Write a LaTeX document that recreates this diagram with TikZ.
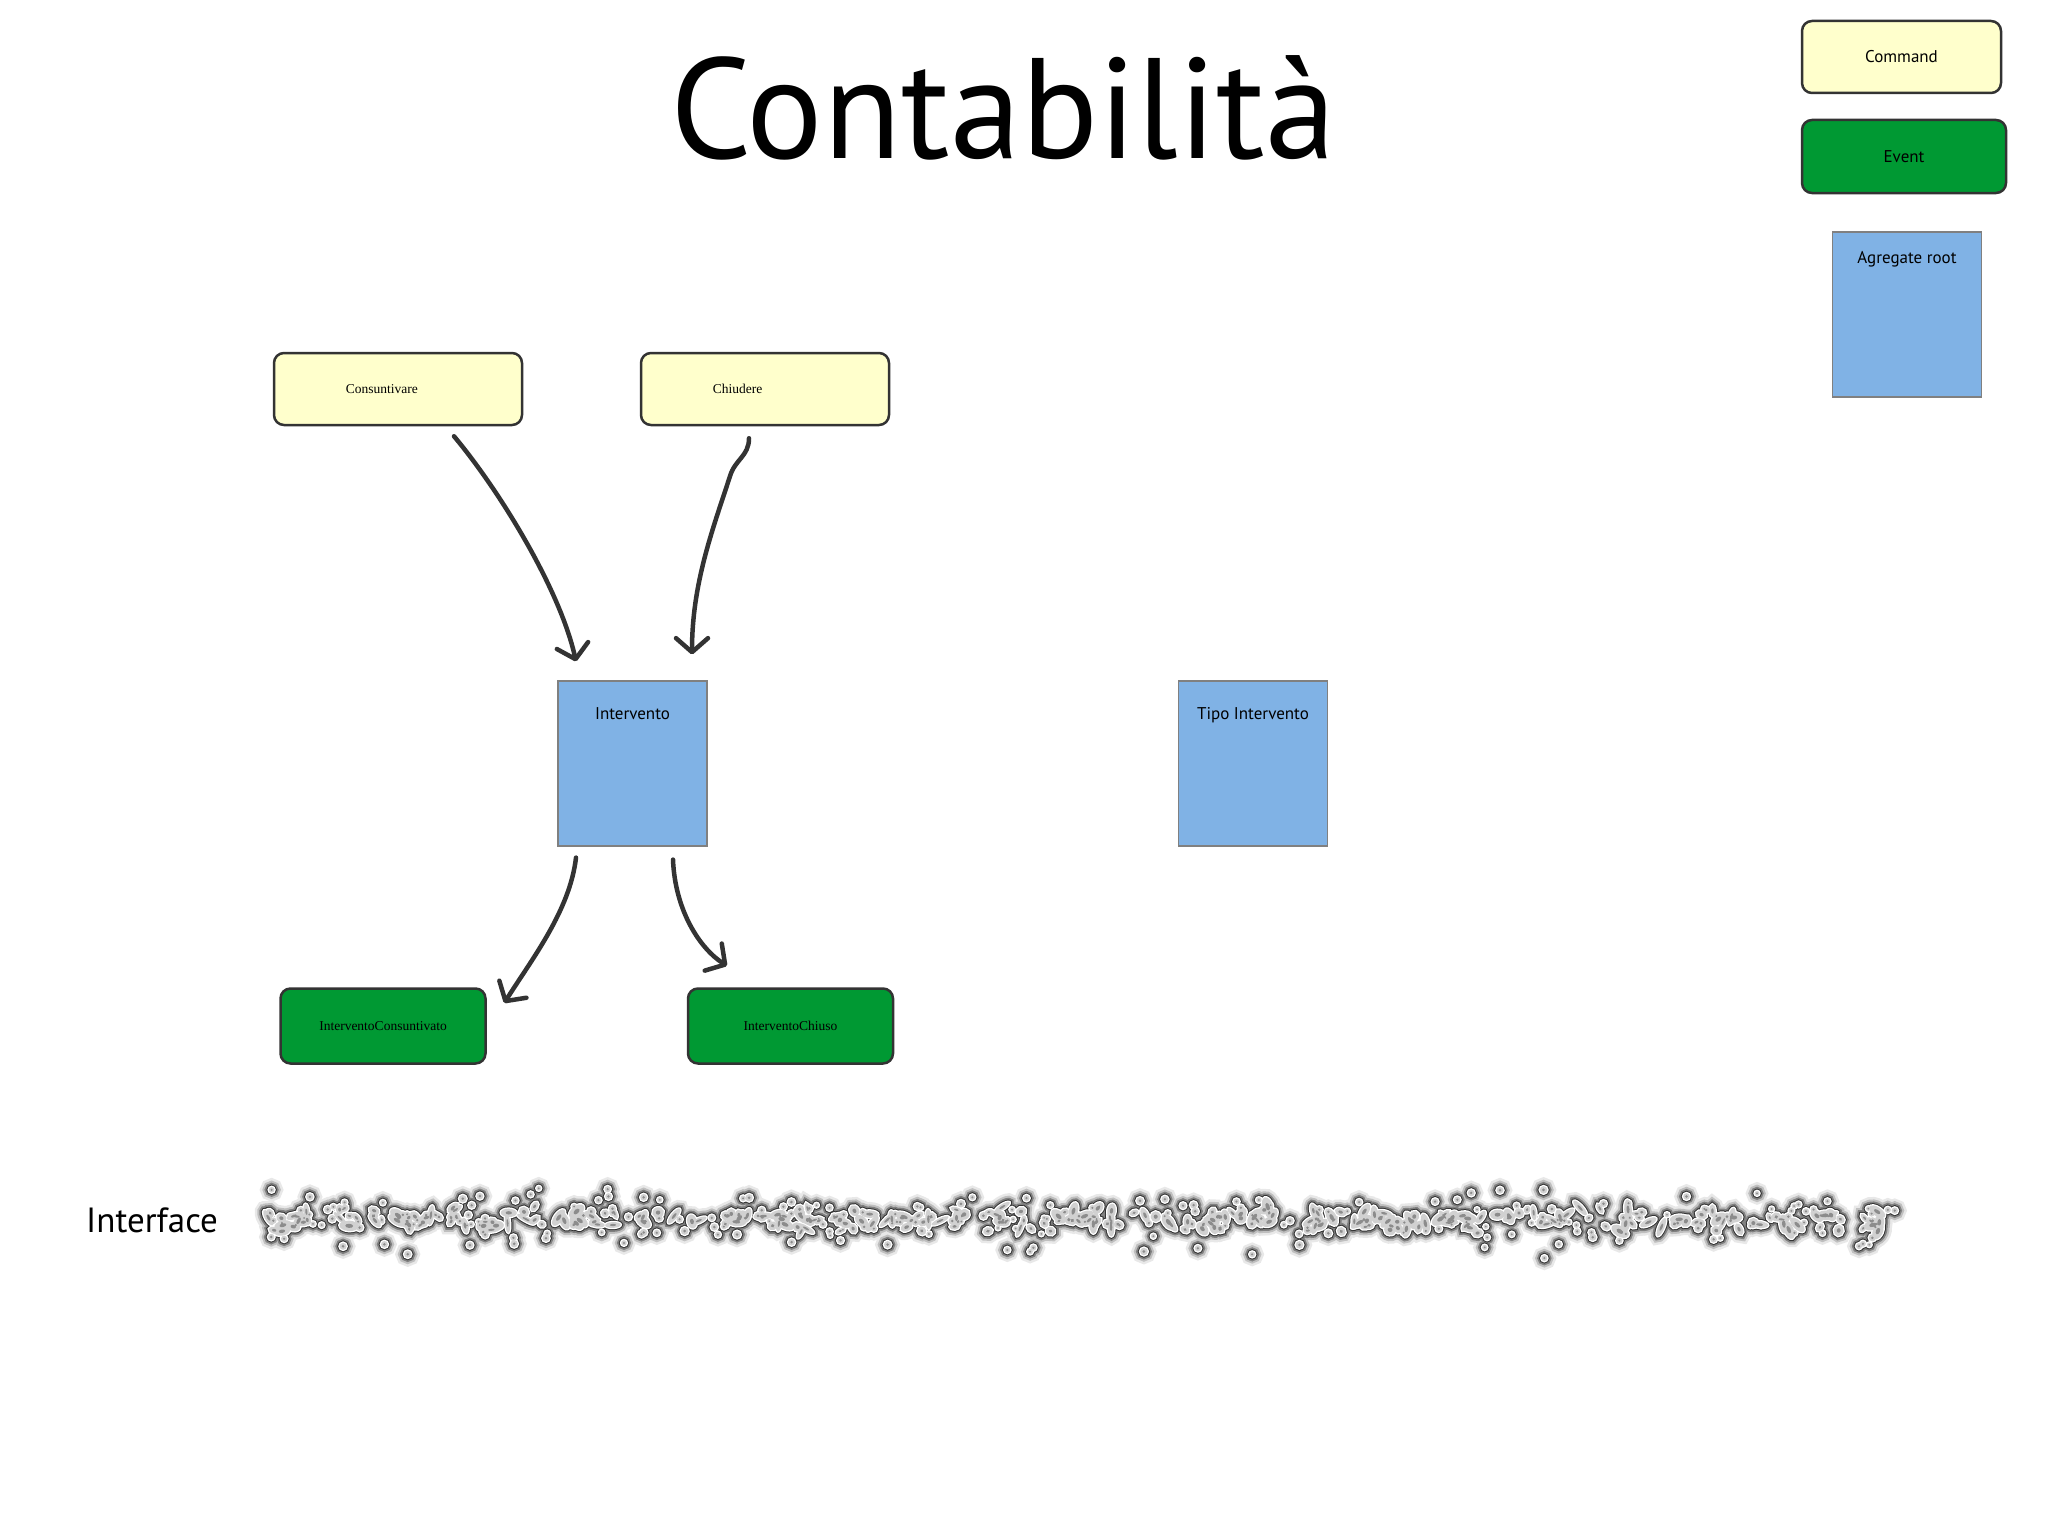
\documentclass[tikz,border=0pt]{standalone}
\usepackage{fontspec}
\setmainfont{PT Sans}
\newfontfamily\cmdfont{Liberation Serif}
\usetikzlibrary{arrows.meta,calc}
\definecolor{cmdyellow}{HTML}{FFFFCC}
\definecolor{evgreen}{HTML}{009933}
\definecolor{aggblue}{HTML}{80B2E5}
\definecolor{edgegray}{HTML}{333333}
\definecolor{agedge}{HTML}{808080}
% #1 = path options, #2 = radius factor
\newcommand\drawblobs[2]{%
  \pgfmathsetseed{4321}%
  \foreach \i in {1,...,320}{%
    \pgfmathsetmacro\bx{268+rnd*1634}%
    \pgfmathsetmacro\by{1220+(rnd+rnd-1)*14}%
    \pgfmathsetmacro\bxr{(3+rnd*7)*#2}%
    \pgfmathsetmacro\byr{(2.4+rnd*3)*#2}%
    \pgfmathsetmacro\ba{rnd*180}%
    \path[#1] (\bx,\by) ellipse[x radius=\bxr, y radius=\byr, rotate=\ba];
  }%
  \foreach \i in {1,...,240}{%
    \pgfmathsetmacro\bx{268+rnd*1634}%
    \pgfmathsetmacro\by{1220+(rnd+rnd+rnd-1.5)*28}%
    \pgfmathsetmacro\br{(2.2+rnd*1.6)*#2}%
    \path[#1] (\bx,\by) circle[radius=\br];
  }}
\begin{document}
\begin{tikzpicture}[x=1pt,y=-1pt,
  cmdbox/.style={draw=edgegray, line width=2.5pt, fill=cmdyellow, rounded corners=10pt, minimum width=248pt, minimum height=72pt, inner sep=0pt},
  evbox/.style={draw=edgegray, line width=2.5pt, fill=evgreen, rounded corners=10pt, minimum width=205pt, minimum height=75pt, inner sep=0pt},
  aggbox/.style={draw=agedge, line width=1.2pt, fill=aggblue, minimum width=149pt, minimum height=165pt, inner sep=0pt},
  smalltext/.style={font=\cmdfont\fontsize{13.5}{14}\selectfont, inner sep=0pt},
  legtext/.style={font=\fontsize{17}{18}\selectfont, inner sep=0pt},
  arr/.style={draw=edgegray, line width=4.5pt, line cap=round, line join=round, -{Straight Barb[length=14pt,width=32pt,round]}}
]
\useasboundingbox[fill=white] (0,0) rectangle (2048,1536);

% title
\node[anchor=base, inner sep=0pt, font=\fontsize{143}{145}\selectfont] (title) at (1003,159) {Contabilità};

% legend
\node[cmdbox, minimum width=199pt, minimum height=72pt, legtext] (lcmd) at (1901.5,57) {Command};
\node[evbox, minimum width=204pt, minimum height=73pt, legtext] (lev) at (1904,156.5) {Event};
\node[aggbox, minimum height=165pt, label={[legtext, anchor=base, yshift=-32pt]north:Agregate root}] (lagg) at (1907,314.5) {};

% commands
\node[cmdbox, label={[smalltext, anchor=west, xshift=73pt]west:Consuntivare}] (cons) at (398,389) {};
\node[cmdbox, label={[smalltext, anchor=west, xshift=73pt]west:Chiudere}] (chi) at (765,389) {};

% aggregates
\node[aggbox, label={[legtext, anchor=base, yshift=-39pt]north:Intervento}] (int) at (632.5,763.5) {};
\node[aggbox, label={[legtext, anchor=base, yshift=-39pt]north:Tipo Intervento}] (tipo) at (1253,763.5) {};

% events
\node[evbox, smalltext] (ecs) at (383,1026) {InterventoConsuntivato};
\node[evbox, smalltext] (ech) at (790.5,1026) {InterventoChiuso};

% arrow end points
\coordinate (a1s) at ($(cons.south)+(56,10)$);
\coordinate (a1e) at ($(int.north)+(-56.5,-19)$);
\coordinate (a2s) at ($(chi.south)+(-16,12)$);
\coordinate (a2m) at ($(a2s)+(-19,38)$);
\coordinate (a2e) at ($(int.north)+(59.5,-26)$);
\coordinate (a3s) at ($(int.south)+(-56.5,11)$);
\coordinate (a3e) at ($(ecs.east)+(17.5,-23)$);
\coordinate (a4s) at ($(int.south)+(40.5,13)$);
\coordinate (a4e) at ($(ech.north)+(-63.5,-21.5)$);

\draw[arr] (a1s) .. controls +(46,55) and +(-16,-72) .. (a1e);
\draw[arr] (a2s) .. controls +(0,18) and +(5,-17) .. (a2m) .. controls +(-18,55) and +(0,-70) .. (a2e);
\draw[arr] (a3s) .. controls +(-6,53) and +(27,-43) .. (a3e);
\draw[arr] (a4s) .. controls +(2,51) and +(-27,-17) .. (a4e);

% interface
\node[anchor=base west, inner sep=0pt, font=\fontsize{35}{37}\selectfont] (iface) at (86,1232) {Interface};
\drawblobs{draw=black!9, line width=17pt}{1}
\drawblobs{draw=black!25, line width=12pt}{1}
\drawblobs{draw=black!50, line width=8pt}{1}
\drawblobs{draw=black!80, line width=4.6pt}{1}
\drawblobs{draw=white, line width=2.6pt}{1}
\drawblobs{fill=black!18}{1}
\drawblobs{fill=black!45}{0.4}
\end{tikzpicture}
\end{document}
